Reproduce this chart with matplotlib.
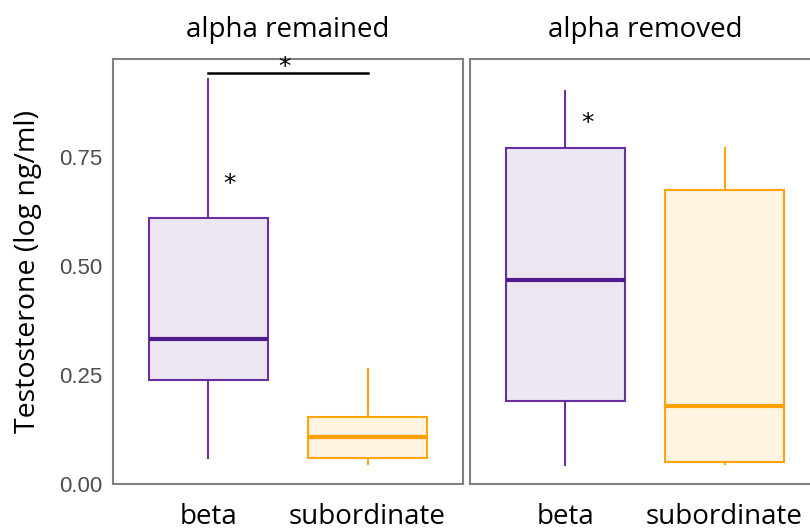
"""Testosterone boxplots: beta vs subordinate, with alpha remained / removed."""
import matplotlib
matplotlib.use("Agg")
import matplotlib.pyplot as plt

# facets and groups
panels = ["alpha remained", "alpha removed"]
groups = ["beta", "subordinate"]

# box stats: (whisker low, Q1, median, Q3, whisker high)
remained_beta = [0.060, 0.239, 0.333, 0.611, 0.929]
remained_sub = [0.046, 0.060, 0.108, 0.154, 0.264]
removed_beta = [0.044, 0.190, 0.468, 0.771, 0.902]
removed_sub = [0.046, 0.051, 0.179, 0.674, 0.771]

yticks = [0.00, 0.25, 0.50, 0.75]

line_cols = ["#6a2fa0", "#ffa50a"]
fill_cols = ["#ede7f2", "#fff3e2"]
median_cols = ["#4f1c8c", "#ffa000"]


def stats_dict(vals, label):
    lo, q1, med, q3, hi = vals
    return {"label": label, "whislo": lo, "q1": q1, "med": med, "q3": q3,
            "whishi": hi, "fliers": []}


fig = plt.figure(figsize=(8.1, 5.31), dpi=100)
ax1 = fig.add_axes([113 / 810, 47 / 531, 350 / 810, 425 / 531])
ax2 = fig.add_axes([470 / 810, 47 / 531, 350 / 810, 425 / 531])

data = [[remained_beta, remained_sub], [removed_beta, removed_sub]]
for ax, title, pair in zip([ax1, ax2], panels, data):
    for i, (vals, g) in enumerate(zip(pair, groups)):
        ax.bxp([stats_dict(vals, g)], positions=[i + 1], widths=0.75,
               patch_artist=True, showcaps=False, showfliers=False,
               boxprops=dict(facecolor=fill_cols[i], edgecolor=line_cols[i], linewidth=1.5),
               whiskerprops=dict(color=line_cols[i], linewidth=1.5),
               medianprops=dict(color=median_cols[i], linewidth=3, solid_capstyle="butt"))
    ax.set_xlim(0.4, 2.6)
    ax.set_ylim(0, 0.975)
    ax.set_xticks([1, 2])
    ax.set_xticklabels(groups, fontsize=20, family="Open Sans", color="black")
    ax.tick_params(axis="both", length=0)
    ax.tick_params(axis="x", pad=14)
    for s in ax.spines.values():
        s.set_color("#808080")
        s.set_linewidth(1.5)
    ax.set_title(title, fontsize=20, family="Open Sans", pad=16)

ax1.set_yticks(yticks)
ax1.set_yticklabels([f"{v:.2f}" for v in yticks], fontsize=16,
                    family="Liberation Sans", color="#4d4d4d")
ax1.tick_params(axis="y", pad=8)
ax1.set_ylabel("Testosterone (log ng/ml)", fontsize=20.5, family="Open Sans", labelpad=12)
ax2.set_yticks([])

# significance marks
ax1.plot([1, 2], [0.944, 0.944], color="black", linewidth=1.8)
ax1.text(1.48, 0.93, "*", ha="center", va="bottom", fontsize=18)
ax1.text(1.13, 0.66, "*", ha="center", va="bottom", fontsize=18)
ax2.text(1.14, 0.80, "*", ha="center", va="bottom", fontsize=18)

fig.savefig("out.png", dpi=100)
